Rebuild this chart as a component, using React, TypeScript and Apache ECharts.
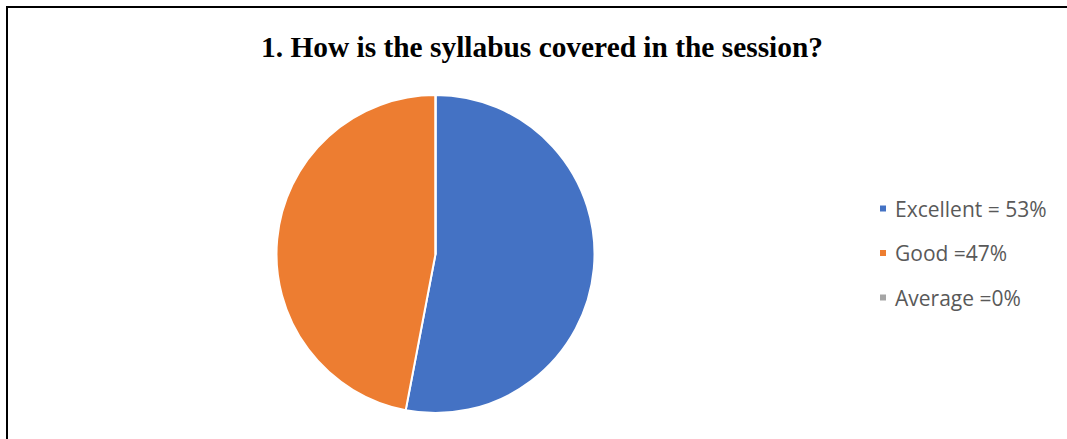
import React, { useEffect, useRef } from "react";
import * as echarts from "echarts";

const categories = ["Excellent = 53%", "Good =47%", "Average =0%"];
const values = [53, 47, 0];
const colors = ["#4472C4", "#ED7D31", "#A5A5A5"];
const titleText = "1. How is the syllabus covered in the session?";

export default function App() {
  const ref = useRef<HTMLDivElement>(null);
  useEffect(() => {
    const chart = echarts.init(ref.current!, null, { renderer: "svg" });
    chart.setOption({
      animation: false,
      backgroundColor: "#ffffff",
      title: {
        text: titleText,
        left: 537,
        top: 27,
        textAlign: "center",
        textStyle: {
          fontFamily: "Liberation Serif",
          fontWeight: "bold",
          fontSize: 29.4,
          color: "#000000",
        },
      },
      legend: {
        orient: "vertical",
        left: 873,
        top: 193,
        itemWidth: 8,
        itemHeight: 8,
        itemGap: 23.5,
        icon: "rect",
        data: categories,
        textStyle: {
          fontFamily: "Open Sans",
          fontSize: 21,
          lineHeight: 20,
          color: "#595959",
          padding: [0, 0, 0, 3],
        },
      },
      graphic: [
        {
          type: "rect",
          shape: { x: 7, y: 7, width: 1200, height: 600 },
          style: { fill: "none", stroke: "#000000", lineWidth: 2 },
          silent: true,
        },
      ],
      series: [
        {
          type: "pie",
          center: [435.5, 254],
          radius: 159,
          startAngle: 90,
          clockwise: true,
          label: { show: false },
          labelLine: { show: false },
          itemStyle: { borderColor: "#ffffff", borderWidth: 2 },
          emphasis: { disabled: true },
          data: categories.map((c, i) => ({
            name: c,
            value: values[i],
            itemStyle: { color: colors[i] },
          })),
        },
      ],
    });
    return () => chart.dispose();
  }, []);
  return (
    <div
      ref={ref}
      style={{ position: "fixed", left: 0, top: 0, width: 1067, height: 439 }}
    />
  );
}
